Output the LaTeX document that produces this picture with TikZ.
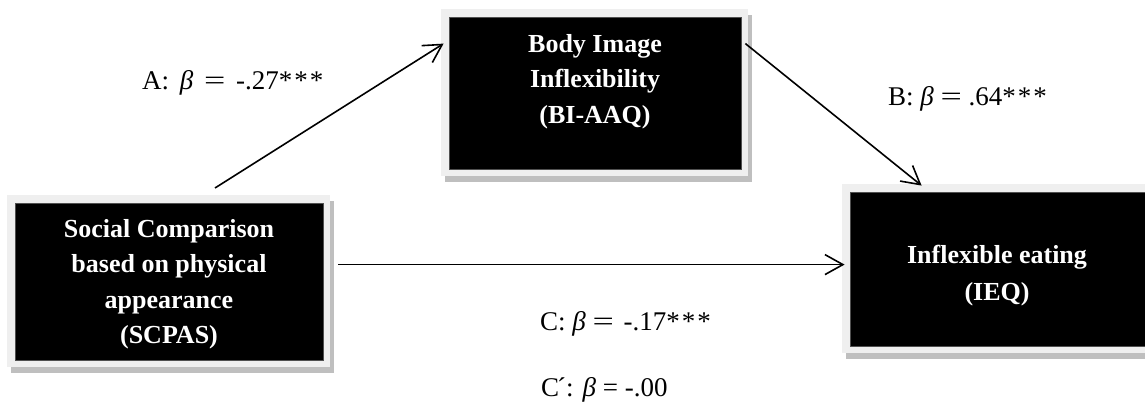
\documentclass[tikz,border=0pt]{standalone}
\usepackage{fontspec}
\usepackage{graphicx}
\setmainfont{Liberation Serif}
\usetikzlibrary{arrows.meta,backgrounds}

\definecolor{framegray}{HTML}{EFEFEF}
\definecolor{shadowgray}{HTML}{BFBFBF}
\definecolor{edgegray}{HTML}{505050}

\tikzset{
  varbox/.style={fill=black, draw=edgegray, line width=0.8pt, inner sep=0pt},
  boxtext/.style={text=white, align=center, inner sep=0pt, anchor=north,
    font=\fontsize{26}{35.5}\selectfont\bfseries},
  coef/.style={anchor=base west, inner sep=0pt, font=\fontsize{27}{30}\selectfont},
  effect/.style={line width=1.6pt, -{Straight Barb[length=18pt, width=20pt, line width=1.6pt]}}
}

% wide equals sign, italic beta and spaced significance stars of the labels
\newcommand{\eqsign}{\scalebox{1.4}[1]{=}}
\newcommand{\bet}{{\itshape β}}
\newcommand{\stars}{*\hspace{2pt}*\hspace{2pt}*}

% frame and drop shadow behind a variable box
\newcommand{\varframe}[1]{%
  \begin{pgfonlayer}{background}
    \fill[shadowgray] ([shift={(-4,-2)}]#1.north west) rectangle ([shift={(11,13)}]#1.south east);
    \fill[framegray] ([shift={(-8,-8)}]#1.north west) rectangle ([shift={(7,7)}]#1.south east);
  \end{pgfonlayer}}

\begin{document}
\begin{tikzpicture}[x=1pt, y=-1pt]
  \useasboundingbox (0,0) rectangle (1145,403);
  \begin{pgfonlayer}{background}
    \fill[white] (0,0) rectangle (1145,403);
  \end{pgfonlayer}

  % variables
  \node[varbox, minimum width=308pt, minimum height=157pt] (soc) at (169,281.5) {};
  \node[varbox, minimum width=292pt, minimum height=152pt] (bia) at (595,93) {};
  \node[varbox, minimum width=295pt, minimum height=154pt] (ieq) at (997.5,269) {};
  \varframe{soc}
  \varframe{bia}
  \varframe{ieq}

  \node[boxtext] (soc-t) at (169,219) {Social Comparison\\based on physical\\appearance\\(SCPAS)};
  \node[boxtext] (bia-t) at (595,34) {Body Image\\Inflexibility\\(BI-AAQ)};
  \node[boxtext, font=\fontsize{26}{37}\selectfont\bfseries] (ieq-t) at (997,245) {Inflexible eating\\(IEQ)};

  % effects
  \coordinate (a0) at (215,188);
  \draw[effect] (a0) -- ([shift={(-5,27)}]bia.north west);
  \draw[effect] ([shift={(4,27)}]bia.north east) -- ([shift={(72,-6)}]ieq.north west);
  \draw[effect] ([shift={(15,62)}]soc.north east) -- ([shift={(-5,73)}]ieq.north west);

  % coefficients
  \node[coef] (la) at (142,90) {A:\hspace{4pt} \bet\hspace{4pt} \eqsign\hspace{4pt} -.27\stars};
  \node[coef] (lb) at (888,106) {B: \bet{} \eqsign{} .64\stars};
  \node[coef] (lc) at (540,330) {C: \bet{} \eqsign\hspace{3pt} -.17\stars};
  \node[coef] (lc2) at (541,396) {C\kern-2pt´: \bet{} = -.00};
\end{tikzpicture}
\end{document}
